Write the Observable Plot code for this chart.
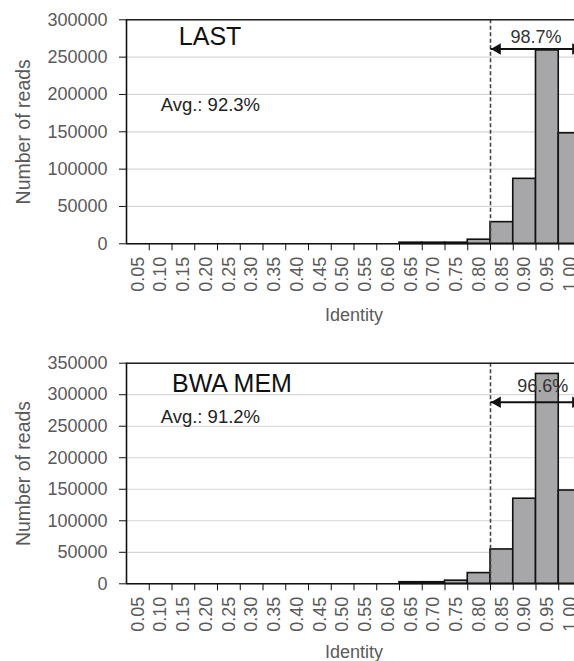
<!DOCTYPE html>
<html>
<head>
<meta charset="utf-8">
<script src="https://cdn.jsdelivr.net/npm/d3@7"></script>
<script src="https://cdn.jsdelivr.net/npm/@observablehq/plot@0.6"></script>
<style>
  body { margin: 0; background: #fff; width: 574px; overflow: hidden; }
  #chart svg { display: block; }
</style>
</head>
<body>
<div id="chart"></div>
<script>
// Identity bins (bin centres) and read counts per bin for each aligner
const identity = [0.05, 0.10, 0.15, 0.20, 0.25, 0.30, 0.35, 0.40, 0.45, 0.50,
                  0.55, 0.60, 0.65, 0.70, 0.75, 0.80, 0.85, 0.90, 0.95, 1.00];
const lastReads = [0, 0, 0, 0, 0, 0, 0, 0, 0, 0,
                   0, 0, 1500, 1500, 1500, 5500, 29000, 87000, 259000, 148000];
const bwaReads  = [0, 0, 0, 0, 0, 0, 0, 0, 0, 0,
                   0, 0, 2500, 2500, 5000, 17000, 54500, 135000, 333000, 148000];

const lastTicks = [0, 50000, 100000, 150000, 200000, 250000, 300000];
const bwaTicks  = [0, 50000, 100000, 150000, 200000, 250000, 300000, 350000];

const panelNames = ["LAST", "BWA MEM"];
const avgLabels = ["Avg.: 92.3%", "Avg.: 91.2%"];
const shareLabels = ["98.7%", "96.6%"];

const binHalf = 0.025;   // half of a bin's width
const cutoff = 0.825;    // reads to the right of this line are counted in the share

const font = "'Liberation Sans', Arial, Helvetica, sans-serif";
const grey = "#5a5a5a";

function panel({reads, ticks, name, avg, share, nameX, nameY, avgY, shareX, shareY, arrowY,
                height, marginTop, marginBottom, xLabelOffset}) {
  const data = identity.map((id, i) => ({id, n: reads[i]}));
  const xMin = identity[0] - binHalf;
  const xMax = identity[identity.length - 1] + binHalf;
  const yMax = ticks[ticks.length - 1];
  const edges = identity.map(v => v + binHalf);
  return Plot.plot({
    width: 574,
    height,
    marginTop,
    marginBottom,
    marginLeft: 126,
    marginRight: -7,
    style: {fontFamily: font, fontSize: "18px", background: "#fff", color: "#000", overflow: "hidden"},
    x: {domain: [xMin, xMax]},
    y: {domain: [0, yMax]},
    marks: [
      Plot.gridY(ticks, {stroke: "#d6d6d6", strokeOpacity: 1, strokeWidth: 1.2}),
      Plot.rectY(data.filter(d => d.n > 0), {
        x1: d => d.id - binHalf, x2: d => d.id + binHalf, y: "n",
        fill: "#a7a7aa", stroke: "#111", strokeWidth: 1.6
      }),
      Plot.ruleX([cutoff], {stroke: "#444", strokeWidth: 1.6, strokeDasharray: "4,2.5"}),
      Plot.ruleY([yMax], {stroke: "#222", strokeWidth: 1.6}),
      Plot.ruleY([0], {stroke: "#111", strokeWidth: 1.6}),
      Plot.ruleX([xMin], {stroke: "#111", strokeWidth: 1.6}),
      // y axis: numbers and outward ticks
      Plot.axisY(ticks, {
        tickSize: 7, tickPadding: 12, stroke: "#111", fill: grey,
        tickFormat: d3.format("d"), fontSize: 18,
        label: null
      }),
      Plot.axisY(ticks, {
        tickSize: 0, text: null, fill: grey, fontSize: 19.5,
        label: "Number of reads", labelAnchor: "center", labelArrow: "none", labelOffset: 110
      }),
      // x axis: tick marks on bin edges
      Plot.axisX(edges, {tickSize: 7, stroke: "#111", tickFormat: () => "", label: null}),
      // x axis: rotated bin labels at bin centres
      Plot.axisX(identity, {
        tickSize: 0, tickPadding: 13, tickRotate: -90, fill: grey, fontSize: 18,
        tickFormat: d3.format(".2f"), label: null
      }),
      Plot.axisX(identity, {
        tickSize: 0, text: null, fill: grey, fontSize: 18,
        label: "Identity", labelAnchor: "center", labelArrow: "none", labelOffset: xLabelOffset
      }),
      // double-headed arrow spanning the high-identity bins
      Plot.link([{a: cutoff, b: xMax, y: arrowY}], {
        x1: "a", x2: "b", y1: "y", y2: "y", stroke: "#111", strokeWidth: 2
      }),
      Plot.dot([{x: cutoff, y: arrowY}], {x: "x", y: "y", symbol: "triangle2", r: 5.5, rotate: -90, dx: 7, fill: "#111"}),
      Plot.dot([{x: xMax, y: arrowY}], {x: "x", y: "y", symbol: "triangle2", r: 5.5, rotate: 90, dx: -6, fill: "#111"}),
      Plot.text([share], {x: shareX, y: shareY, text: d => d, fontSize: 18, fill: "#333", lineAnchor: "bottom"}),
      Plot.text([name], {x: nameX, y: nameY, text: d => d, fontSize: 25, fill: "#111", textAnchor: "start", lineAnchor: "bottom"}),
      Plot.text([avg], {x: 0.10, y: avgY, text: d => d, fontSize: 18.5, fill: "#222", textAnchor: "start", lineAnchor: "bottom"})
    ]
  });
}

const chart = document.getElementById("chart");
chart.append(panel({
  reads: lastReads, ticks: lastTicks, name: panelNames[0], avg: avgLabels[0], share: shareLabels[0],
  nameX: 0.14, nameY: 266000, avgY: 178000, shareX: 0.925, shareY: 269000, arrowY: 261000,
  height: 330, marginTop: 19.3, marginBottom: 86.7, xLabelOffset: 77
}));
chart.append(panel({
  reads: bwaReads, ticks: bwaTicks, name: panelNames[1], avg: avgLabels[1], share: shareLabels[1],
  nameX: 0.125, nameY: 304000, avgY: 255000, shareX: 0.94, shareY: 305000, arrowY: 288000,
  height: 331, marginTop: 32.7, marginBottom: 77.7, xLabelOffset: 74
}));
</script>
</body>
</html>
